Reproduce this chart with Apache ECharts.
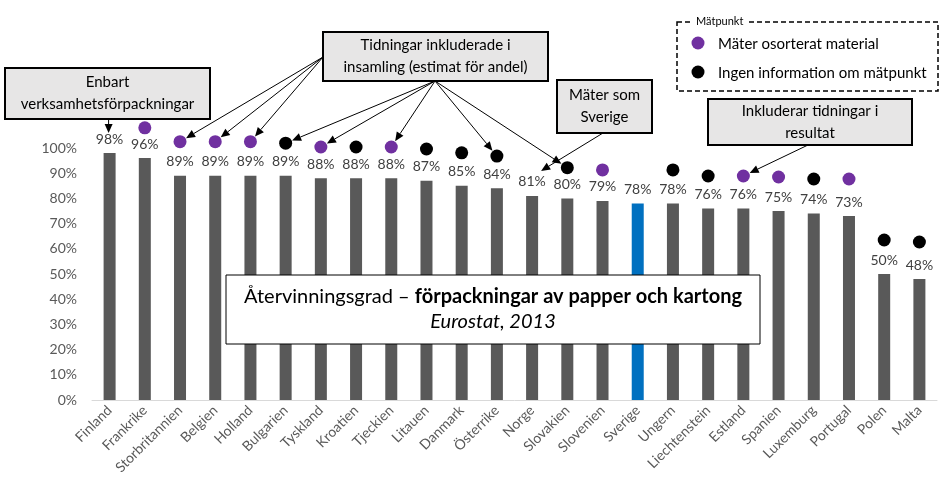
<!DOCTYPE html>
<html>
<head>
<meta charset="utf-8">
<script src="https://cdn.jsdelivr.net/npm/echarts@6/dist/echarts.min.js"></script>
<style>
html,body{margin:0;padding:0;background:#fff;}
#chart{width:950px;height:494px;}
</style>
</head>
<body>
<div id="chart"></div>
<script>
// data
var countries = ['Finland','Frankrike','Storbritannien','Belgien','Holland','Bulgarien','Tyskland','Kroatien','Tjeckien','Litauen','Danmark','Österrike','Norge','Slovakien','Slovenien','Sverige','Ungern','Liechtenstein','Estland','Spanien','Luxemburg','Portugal','Polen','Malta'];
var rates = [98,96,89,89,89,89,88,88,88,87,85,84,81,80,79,78,78,76,76,75,74,73,50,48];
// mätpunkt-markörer, höjd
var purpleDots = [null,108,102.5,102.5,102.5,null,100.4,null,100.4,null,null,null,null,null,91.3,null,null,null,88.9,88.5,null,87.7,null,null];
var blackDots = [null,null,null,null,null,101.9,null,100.4,null,99.6,98.1,96.8,null,92.2,null,null,91.3,88.9,null,null,87.7,null,63.5,62.7];
var yMin = 0, yMax = 100, yStep = 10;

var FONT = 'Lato, "Open Sans", sans-serif';

function toPoints(arr){
    var out = [];
    arr.forEach(function(v, i){ if (v !== null) out.push([countries[i], v]); });
    return out;
}

var chart = echarts.init(document.getElementById('chart'));
chart.setOption({
    animation: false,
    textStyle: {fontFamily: FONT},
    grid: {left: 92, right: 13, top: 148, bottom: 94},
    xAxis: {
        type: 'category',
        data: countries,
        axisLine: {lineStyle: {color: '#D9D9D9', width: 1}},
        axisTick: {show: false},
        axisLabel: {interval: 0, rotate: 45, fontSize: 14, color: '#595959', margin: 8, fontFamily: FONT}
    },
    yAxis: {
        type: 'value',
        min: yMin, max: yMax, interval: yStep,
        splitLine: {show: false},
        axisLine: {show: false},
        axisTick: {show: false},
        axisLabel: {formatter: '{value}%', fontSize: 14, color: '#595959', margin: 15, fontFamily: FONT}
    },
    series: [
        {
            type: 'bar',
            data: rates,
            barWidth: 12,
            itemStyle: {
                color: function(p){ return p.name === 'Sverige' ? '#0070C0' : '#595959'; }
            },
            label: {
                show: true, position: 'top', distance: 7,
                formatter: '{c}%', fontSize: 14, color: '#404040', fontFamily: FONT
            }
        },
        {
            type: 'scatter', data: toPoints(purpleDots), symbolSize: 13, clip: false,
            itemStyle: {color: '#7030A0', opacity: 1}
        },
        {
            type: 'scatter', data: toPoints(blackDots), symbolSize: 13, clip: false,
            itemStyle: {color: '#000000', opacity: 1}
        }
    ]
});

//pilar och rutor
function px(name, v){
    return chart.convertToPixel({gridIndex: 0}, [countries.indexOf(name), v]);
}
var g = [];
function arrow(from, to, gap){
    var dx = to[0]-from[0], dy = to[1]-from[1];
    var len = Math.sqrt(dx*dx + dy*dy), ux = dx/len, uy = dy/len;
    var tip = [to[0]-ux*gap, to[1]-uy*gap];
    var hl = 9, hw = 4;
    var base = [tip[0]-ux*hl, tip[1]-uy*hl];
    g.push({type: 'line', z: 110, shape: {x1: from[0], y1: from[1], x2: base[0], y2: base[1]}, style: {stroke: '#000', lineWidth: 1}});
    g.push({type: 'polygon', z: 110, shape: {points: [tip, [base[0]-uy*hw, base[1]+ux*hw], [base[0]+uy*hw, base[1]-ux*hw]]}, style: {fill: '#000'}});
}
function box(x1, y1, x2, y2, text){
    g.push({type: 'rect', z: 100, shape: {x: x1, y: y1, width: x2-x1, height: y2-y1},
        style: {fill: '#E7E6E6', stroke: '#000', lineWidth: 2}});
    g.push({type: 'text', z: 101, x: (x1+x2)/2, y: (y1+y2)/2,
        style: {text: text, align: 'center', verticalAlign: 'middle', fontSize: 15, fontFamily: FONT, fill: '#000', lineHeight: 22}});
}
function dotOf(name){
    var i = countries.indexOf(name);
    return px(name, purpleDots[i] !== null ? purpleDots[i] : blackDots[i]);
}

box(5, 68, 210, 119, 'Enbart\nverksamhetsförpackningar');
var fin = px('Finland', rates[0]);
arrow([fin[0]-1, 120], [fin[0]-1, 133], 0);

box(323, 32, 548, 81, 'Tidningar inkluderade i\ninsamling (estimat för andel)');
['Storbritannien','Belgien','Holland'].forEach(function(n){ arrow([323, 57], dotOf(n), 7); });
['Bulgarien','Tyskland','Tjeckien','Österrike','Slovakien'].forEach(function(n){ arrow([435, 81], dotOf(n), 7); });

box(557, 80, 652, 133, 'Mäter som\nSverige');
var nor = px('Norge', rates[12]);
arrow([603, 133], [nor[0]+9, nor[1]-25], 0);

box(708, 99, 912, 145, 'Inkluderar tidningar i\nresultat');
arrow([808, 145], dotOf('Estland'), 7);

// legend
g.push({type: 'rect', z: 100, shape: {x: 677, y: 22, width: 261, height: 69},
    style: {fill: '#fff', stroke: '#000', lineWidth: 1.5, lineDash: [5, 3]}});
g.push({type: 'text', z: 101, x: 692, y: 21,
    style: {text: 'Mätpunkt', fontSize: 11, fontFamily: FONT, fill: '#000', align: 'left', verticalAlign: 'middle',
        backgroundColor: '#fff', padding: [0, 4]}});
g.push({type: 'circle', z: 101, shape: {cx: 698, cy: 43, r: 6.5}, style: {fill: '#7030A0'}});
g.push({type: 'text', z: 101, x: 718, y: 44,
    style: {text: 'Mäter osorterat material', fontSize: 15, fontFamily: FONT, fill: '#000', align: 'left', verticalAlign: 'middle'}});
g.push({type: 'circle', z: 101, shape: {cx: 698, cy: 72, r: 6.5}, style: {fill: '#000'}});
g.push({type: 'text', z: 101, x: 718, y: 73,
    style: {text: 'Ingen information om mätpunkt', fontSize: 15, fontFamily: FONT, fill: '#000', align: 'left', verticalAlign: 'middle'}});

// titelruta
g.push({type: 'rect', z: 100, shape: {x: 226, y: 275, width: 534, height: 69},
    style: {fill: '#fff', stroke: '#000', lineWidth: 1}});
g.push({type: 'text', z: 101, x: 493, y: 297,
    style: {text: '{n|Återvinningsgrad – }{b|förpackningar av papper och kartong}', align: 'center', verticalAlign: 'middle',
        rich: {
            n: {fontSize: 20, fontFamily: FONT, fill: '#000'},
            b: {fontSize: 20, fontFamily: FONT, fontWeight: 'bold', fill: '#000'}
        }}});
g.push({type: 'text', z: 101, x: 493, y: 322,
    style: {text: 'Eurostat, 2013', fontSize: 20, fontStyle: 'italic', fontFamily: FONT, fill: '#000', align: 'center', verticalAlign: 'middle'}});

chart.setOption({graphic: g});
</script>
</body>
</html>
